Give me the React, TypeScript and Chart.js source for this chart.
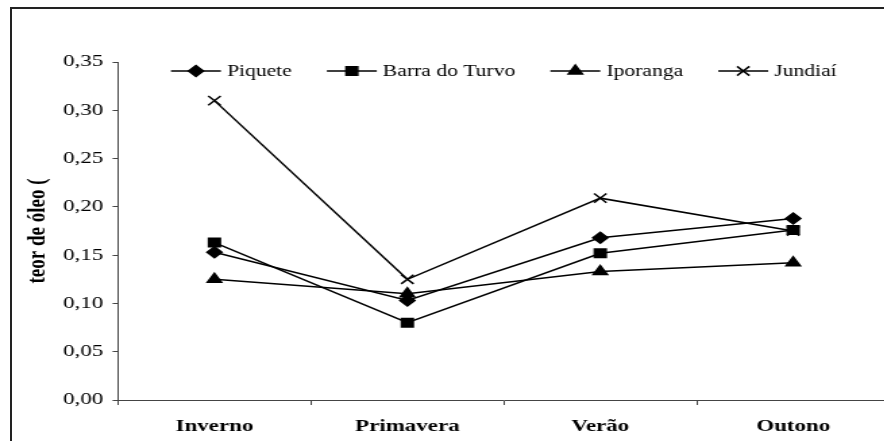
import React, { useEffect, useRef } from 'react';
import { Chart, registerables } from 'chart.js';
import { drawPoint } from 'chart.js/helpers';

Chart.register(...registerables);

const categories = ['Inverno', 'Primavera', 'Verão', 'Outono'];
const seriesNames = ['Piquete', 'Barra do Turvo', 'Iporanga', 'Jundiaí'];
const piquete = [0.153, 0.103, 0.168, 0.188];
const barraDoTurvo = [0.163, 0.080, 0.152, 0.176];
const iporanga = [0.125, 0.110, 0.133, 0.142];
const jundiai = [0.310, 0.125, 0.209, 0.175];
const yTickLabels = ['0,00', '0,05', '0,10', '0,15', '0,20', '0,25', '0,30', '0,35'];
const yTitle = 'teor de óleo (';

const pointStyles = ['rectRot', 'rect', 'triangle', 'crossRot'];
const pointRadii = [5.5, 6, 6, 6.5];

const SX = 1.35; // horizontal stretch of the original picture
const W = 667;
const H = 441;
const FONT = '"Liberation Serif", "Times New Roman", serif';

const lineLegend = {
  id: 'lineLegend',
  afterDraw(chart: any) {
    const ctx = chart.ctx;
    const ca = chart.chartArea;
    ctx.save();
    ctx.font = `16px ${FONT}`;
    const lineLen = 37;
    const gapT = 4.5;
    const gapI = 26;
    const items = chart.data.datasets.map((ds: any) => ({ ds, w: ctx.measureText(ds.label).width }));
    const total = items.reduce((s: number, it: any) => s + lineLen + gapT + it.w, 0) + gapI * (items.length - 1);
    let x = (ca.left + ca.right) / 2 - total / 2;
    const y = 71;
    items.forEach(({ ds, w }: any) => {
      ctx.strokeStyle = '#000';
      ctx.fillStyle = '#000';
      ctx.lineWidth = 1.5;
      ctx.beginPath();
      ctx.moveTo(x, y);
      ctx.lineTo(x + lineLen, y);
      ctx.stroke();
      drawPoint(ctx, { pointStyle: ds.pointStyle, rotation: 0, radius: ds.pointRadius, borderWidth: 1.5 } as any, x + lineLen / 2, y);
      ctx.textBaseline = 'middle';
      ctx.textAlign = 'left';
      ctx.fillStyle = '#000';
      ctx.fillText(ds.label, x + lineLen + gapT, y + 1);
      x += lineLen + gapT + w + gapI;
    });
    ctx.restore();
  },
};

export default function App() {
  const ref = useRef<HTMLCanvasElement>(null);
  useEffect(() => {
    const seriesData = [piquete, barraDoTurvo, iporanga, jundiai];
    const chart = new Chart(ref.current as HTMLCanvasElement, {
      type: 'line',
      data: {
        labels: categories,
        datasets: seriesNames.map((name, i) => ({
          label: name,
          data: seriesData[i],
          borderColor: '#000',
          backgroundColor: '#000',
          borderWidth: 1.5,
          pointStyle: pointStyles[i] as any,
          pointRadius: pointRadii[i],
          pointBorderWidth: 1.5,
          pointBorderColor: '#000',
          pointBackgroundColor: '#000',
          tension: 0,
          fill: false,
        })),
      },
      options: {
        responsive: false,
        animation: false,
        layout: { padding: { top: 62, right: W - 660.7, bottom: 0, left: 0 } },
        plugins: { legend: { display: false }, tooltip: { enabled: false } },
        scales: {
          x: {
            type: 'category',
            offset: true,
            grid: { offset: true, drawOnChartArea: false, drawTicks: true, tickLength: 5, color: '#444' },
            border: { display: true, color: '#444', width: 1 },
            ticks: { font: { family: FONT, size: 17, weight: 'bold' }, color: '#000', padding: 11, maxRotation: 0 },
            afterFit: (s: any) => { s.height = 41; },
          },
          y: {
            min: 0,
            max: 0.35,
            ticks: {
              stepSize: 0.05,
              callback: (v: any) => yTickLabels[Math.round(Number(v) / 0.05)],
              font: { family: FONT, size: 17 },
              color: '#000',
              padding: 7,
            },
            grid: { drawOnChartArea: false, drawTicks: true, tickLength: 4, color: '#444' },
            border: { display: true, color: '#444', width: 1 },
            title: {
              display: true,
              text: yTitle,
              font: { family: FONT, size: 19, weight: 'bold' },
              color: '#000',
              padding: { top: 17, bottom: 0 },
            },
            afterFit: (s: any) => { s.width = 87.4; },
          },
        },
      } as any,
      plugins: [lineLegend],
    });
    return () => chart.destroy();
  }, []);

  return (
    <div style={{ position: 'fixed', left: 0, top: 0, width: 884, height: 441, overflow: 'hidden', background: '#fff' }}>
      <div style={{ position: 'absolute', left: 0, top: 0, width: W, height: H, transform: `scaleX(${SX})`, transformOrigin: '0 0' }}>
        <canvas ref={ref} width={W} height={H} style={{ display: 'block', width: W, height: H }} />
      </div>
      <div style={{ position: 'absolute', left: 10, top: 7, width: 2000, height: 2000, borderLeft: '2px solid #222', borderTop: '2px solid #222' }} />
    </div>
  );
}
